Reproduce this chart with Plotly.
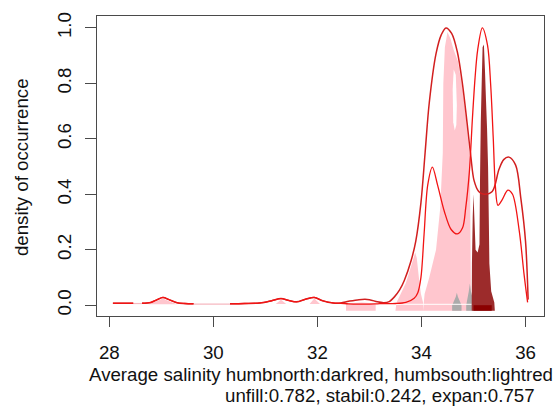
import plotly.graph_objects as go

# ---------------- data ----------------
# density curve A (broad peak near 34.5)
sal_a = [28.07, 28.3, 28.46, None, 28.63, 28.8, 28.92, 29.03, 29.15, 29.3, 29.45, 29.62, None,
         30.32, 30.6, 30.9, 31.12, 31.3, 31.45, 31.6, 31.78, 31.94, 32.1, 32.3, 32.45,
         32.6, 32.8, 33.0, 33.15, 33.28, 33.38, 33.48, 33.58, 33.67, 33.8, 33.89, 33.99,
         34.07, 34.15, 34.28, 34.38, 34.47, 34.58, 34.69, 34.79, 34.88, 34.95, 35.01,
         35.1, 35.2, 35.36, 35.49, 35.58, 35.68, 35.81, 35.91, 36.0, 36.05]
dens_a = [0.007, 0.007, 0.007, None, 0.007, 0.01, 0.02, 0.028, 0.02, 0.009, 0.006, 0.005, None,
          0.005, 0.006, 0.008, 0.016, 0.024, 0.017, 0.012, 0.022, 0.028, 0.016, 0.008, 0.008,
          0.014, 0.02, 0.02, 0.012, 0.009, 0.013, 0.03, 0.055, 0.089, 0.16, 0.23, 0.37,
          0.55, 0.73, 0.907, 0.975, 1.0, 0.98, 0.913, 0.795, 0.652, 0.534, 0.45,
          0.41, 0.40, 0.41, 0.49, 0.525, 0.534, 0.505, 0.385, 0.23, 0.02]

# density curve B (sharp peak near 35.2)
sal_b = [28.07, 28.3, 28.46, None, 28.63, 28.8, 28.92, 29.03, 29.15, 29.3, 29.45, 29.62, None,
         30.32, 30.6, 30.9, 31.12, 31.3, 31.45, 31.6, 31.78, 31.94, 32.1, 32.3, 32.45,
         32.6, 32.8, 33.0, 33.15, 33.3, 33.5, 33.7, 33.86, 33.93, 33.99, 34.05, 34.12,
         34.21, 34.31, 34.44, 34.57, 34.69, 34.79, 34.85, 34.92, 34.98, 35.03, 35.08,
         35.17, 35.27, 35.33, 35.38, 35.42, 35.47, 35.55, 35.66, 35.75, 35.88, 35.97, 36.04]
dens_b = [0.007, 0.007, 0.007, None, 0.007, 0.01, 0.02, 0.028, 0.02, 0.009, 0.006, 0.005, None,
          0.005, 0.006, 0.008, 0.016, 0.024, 0.017, 0.012, 0.022, 0.028, 0.016, 0.008, 0.007,
          0.005, 0.004, 0.004, 0.005, 0.006, 0.006, 0.01, 0.025, 0.045, 0.10, 0.255, 0.433,
          0.498, 0.433, 0.338, 0.273, 0.257, 0.279, 0.35, 0.48, 0.676, 0.82, 0.92,
          1.0, 0.937, 0.795, 0.6, 0.43, 0.36, 0.38, 0.415, 0.40, 0.267, 0.114, 0.01]

# faint (near-zero) stretches of the lines
faint_sal = [28.46, 28.63, None, 29.62, 30.32]
faint_dens = [0.006, 0.006, None, 0.004, 0.004]

# humbsouth (light red) filled density, several pieces
south_sal = [28.75, 28.9, 29.03, 29.15, 29.3, None,
             31.2, 31.3, 31.4, None,
             31.85, 31.94, 32.05, None,
             32.55, 32.55, 32.7, 32.85, 33.0, 33.12, 33.12, None,
             33.50, 33.52, 33.60, 33.70, 33.80, 33.88, 33.91, 33.95, 33.99, 34.03, 34.03, None,
             34.03, 34.06, 34.15, 34.28, 34.36, 34.41, 34.42, 34.45, 34.50, 34.56, 34.62,
             34.70, 34.80, 34.88, 34.93, 34.94, 34.95, 34.95]
south_dens = [0.003, 0.014, 0.024, 0.014, 0.003, None,
              0.004, 0.02, 0.004, None,
              0.004, 0.024, 0.004, None,
              -0.02, 0.004, 0.008, 0.01, 0.008, 0.004, -0.02, None,
              -0.02, 0.01, 0.04, 0.08, 0.14, 0.19, 0.17, 0.10, 0.04, 0.01, -0.02, None,
              -0.02, 0.04, 0.10, 0.20, 0.35, 0.55, 0.80, 0.93, 0.985, 0.96, 0.92,
              0.88, 0.77, 0.63, 0.53, 0.3, 0.05, -0.02]

# gap inside the light-red area
gap_sal = [34.60, 34.62, 34.66, 34.68, 34.67, 34.64, 34.61]
gap_dens = [0.78, 0.85, 0.83, 0.72, 0.65, 0.63, 0.66]

# humbnorth (dark red) filled density
north_sal = [34.965, 34.97, 34.985, 35.00, 35.02, 35.04, 35.08, 35.115, 35.125, 35.14, 35.16,
             35.175, 35.20, 35.22, 35.24, 35.26, 35.28, 35.295, 35.305, 35.34, 35.40, 35.41]
north_dens = [-0.02, 0.15, 0.32, 0.40, 0.30, 0.20, 0.19, 0.22, 0.45, 0.66, 0.82,
              0.93, 0.94, 0.85, 0.74, 0.64, 0.50, 0.30, 0.15, 0.05, 0.01, -0.02]
north_base_sal = [35.0, 35.35, 35.35, 35.0]
north_base_dens = [-0.02, -0.02, 0.0, 0.0]

# stability (grey) pieces
stab_sal = [34.59, 34.66, 34.68, 34.70, 34.77, 34.77, 34.59, None,
            34.86, 34.91, 34.93, 34.95, 35.02, 35.02, 34.86]
stab_dens = [0.0, 0.03, 0.045, 0.03, 0.0, -0.02, -0.02, None,
             0.0, 0.05, 0.078, 0.05, 0.0, -0.02, -0.02]

zero_sal = [33.5, 34.96]
zero_dens = [0.003, 0.003]

x_ticks = [28, 30, 32, 34, 36]
y_ticks = [0.0, 0.2, 0.4, 0.6, 0.8, 1.0]
y_ticktext = ["0.0", "0.2", "0.4", "0.6", "0.8", "1.0"]

xlab1 = "Average salinity humbnorth:darkred, humbsouth:lightred"
xlab2 = "unfill:0.782, stabil:0.242, expan:0.757"
ylab = "density of occurrence"

# ---------------- figure ----------------
FONT = "Liberation Sans, Arial, Helvetica, sans-serif"
FS = 18.7
AX = "#4a4a4a"

fig = go.Figure()
fig.add_trace(go.Scatter(x=south_sal, y=south_dens, mode="none", fill="toself",
                         fillcolor="#FFC6CE", hoverinfo="skip"))
fig.add_trace(go.Scatter(x=gap_sal, y=gap_dens, mode="none", fill="toself",
                         fillcolor="white", hoverinfo="skip"))
fig.add_trace(go.Scatter(x=stab_sal, y=stab_dens, mode="none", fill="toself",
                         fillcolor="#ABABAB", hoverinfo="skip"))
fig.add_trace(go.Scatter(x=north_sal, y=north_dens, mode="none", fill="toself",
                         fillcolor="#9C2B2B", hoverinfo="skip"))
fig.add_trace(go.Scatter(x=north_base_sal, y=north_base_dens, mode="none", fill="toself",
                         fillcolor="#8B0000", hoverinfo="skip"))
fig.add_trace(go.Scatter(x=zero_sal, y=zero_dens, mode="lines",
                         line=dict(color="rgba(255,255,255,0.8)", width=1.2), hoverinfo="skip"))
fig.add_trace(go.Scatter(x=faint_sal, y=faint_dens, mode="lines",
                         line=dict(color="#F6B8C0", width=1.2), hoverinfo="skip"))
fig.add_trace(go.Scatter(x=sal_a, y=dens_a, mode="lines",
                         line=dict(color="#D21F1F", width=1.5, shape="spline", smoothing=0.9)))
fig.add_trace(go.Scatter(x=sal_b, y=dens_b, mode="lines",
                         line=dict(color="#F21414", width=1.3, shape="spline", smoothing=0.9)))

fig.update_layout(
    width=557, height=410,
    margin=dict(l=97, r=12, t=12, b=94),
    paper_bgcolor="white", plot_bgcolor="white",
    showlegend=False,
    font=dict(family=FONT, size=FS, color="#111111"),
    xaxis=dict(range=[27.764, 36.355], tickvals=x_ticks, ticks="outside", ticklen=10,
               tickcolor=AX, tickwidth=1, showline=True, mirror=True, linecolor=AX,
               linewidth=1, showgrid=False, zeroline=False, ticklabelstandoff=10,
               tickfont=dict(size=FS)),
    yaxis=dict(range=[-0.039, 1.043], tickvals=y_ticks, ticktext=y_ticktext,
               ticks="outside", ticklen=11, tickcolor=AX, tickwidth=1, tickangle=-90,
               showline=True, mirror=True, linecolor=AX, linewidth=1, showgrid=False,
               zeroline=False, ticklabelstandoff=7, tickfont=dict(size=FS)),
)

fig.add_annotation(text=xlab1, xref="paper", yref="paper", x=0.5, y=-0.194,
                   xanchor="center", yanchor="middle", showarrow=False, font=dict(size=FS))
fig.add_annotation(text=xlab2, xref="paper", yref="paper", x=0.634, y=-0.266,
                   xanchor="center", yanchor="middle", showarrow=False, font=dict(size=FS))
fig.add_annotation(text=ylab, xref="paper", yref="paper", x=-0.1674, y=0.497,
                   xanchor="center", yanchor="middle", textangle=-90, showarrow=False,
                   font=dict(size=FS))

fig.write_html("out.html")
